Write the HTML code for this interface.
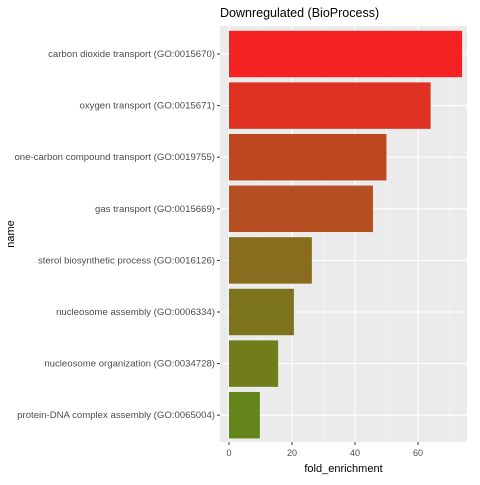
<!DOCTYPE html>
<html><head><meta charset="utf-8"><style>
body{margin:0;background:#fff;font-family:"Liberation Sans",sans-serif}
</style></head><body>
<svg id="chart" width="480" height="480" xmlns="http://www.w3.org/2000/svg"></svg>
<script>
const categories=["carbon dioxide transport (GO:0015670)","oxygen transport (GO:0015671)","one-carbon compound transport (GO:0019755)","gas transport (GO:0015669)","sterol biosynthetic process (GO:0016126)","nucleosome assembly (GO:0006334)","nucleosome organization (GO:0034728)","protein-DNA complex assembly (GO:0065004)"];
const foldValues=[74,64,50,45.7,26.3,20.6,15.6,9.8];
const xTicks=[0,20,40,60];
const NS="http://www.w3.org/2000/svg";
const svg=document.getElementById('chart');
const P={l:220,r:467,t:26,b:442};
const x=v=>229+v*3.15;
const band=51.6;
const y=i=>54+i*band;
function mk(tag,attrs,parent){const e=document.createElementNS(NS,tag);for(const k in attrs)e.setAttribute(k,attrs[k]);(parent||svg).appendChild(e);return e;}
const panel=mk('rect',{x:P.l,y:P.t,width:P.r-P.l,height:P.b-P.t,fill:'#ebebeb'});


for(let i=0;i<xTicks.length;i++){const m=xTicks[i]+10;const ln=mk('line',{x1:x(m),x2:x(m),y1:P.t,y2:P.b,stroke:'#f5f5f5','stroke-width':0.6});

}
xTicks.forEach(t=>{const ln=mk('line',{x1:x(t),x2:x(t),y1:P.t,y2:P.b,stroke:'#fff','stroke-width':1.1});


const tk=mk('line',{x1:x(t),x2:x(t),y1:P.b,y2:P.b+3,stroke:'#333'});


const tl=mk('text',{x:x(t),y:P.b+14,'font-size':9,fill:'#4d4d4d','text-anchor':'middle'});tl.textContent=t;

});
const vmin=Math.min(...foldValues),vmax=Math.max(...foldValues);
categories.forEach((c,i)=>{
const gl=mk('line',{x1:P.l,x2:P.r,y1:y(i),y2:y(i),stroke:'#fff','stroke-width':1.1});


const v=foldValues[i];const t=(v-vmin)/(vmax-vmin);
const r=Math.round(100+145*t),g=Math.round(133-99*t),b=Math.round(26+10*t);
const bar=mk('rect',{x:x(0),y:y(i)-band*0.45,width:x(v)-x(0),height:band*0.9,fill:`rgb(${r},${g},${b})`});


const tk=mk('line',{x1:P.l-3,x2:P.l,y1:y(i),y2:y(i),stroke:'#333'});


const tl=mk('text',{x:P.l-5,y:y(i)+3,'font-size':9.6,fill:'#4d4d4d','text-anchor':'end'});tl.textContent=c;


});
const title=mk('text',{x:P.l,y:17,'font-size':12.5,fill:'#000'});title.textContent='Downregulated (BioProcess)';


const xt=mk('text',{x:(P.l+P.r)/2,y:472,'font-size':11,fill:'#000','text-anchor':'middle'});xt.textContent='fold_enrichment';


const yt=mk('text',{x:0,y:0,'font-size':11,fill:'#000','text-anchor':'middle',transform:`translate(14,${(P.t+P.b)/2}) rotate(-90)`});yt.textContent='name';


</script>
</body></html>
